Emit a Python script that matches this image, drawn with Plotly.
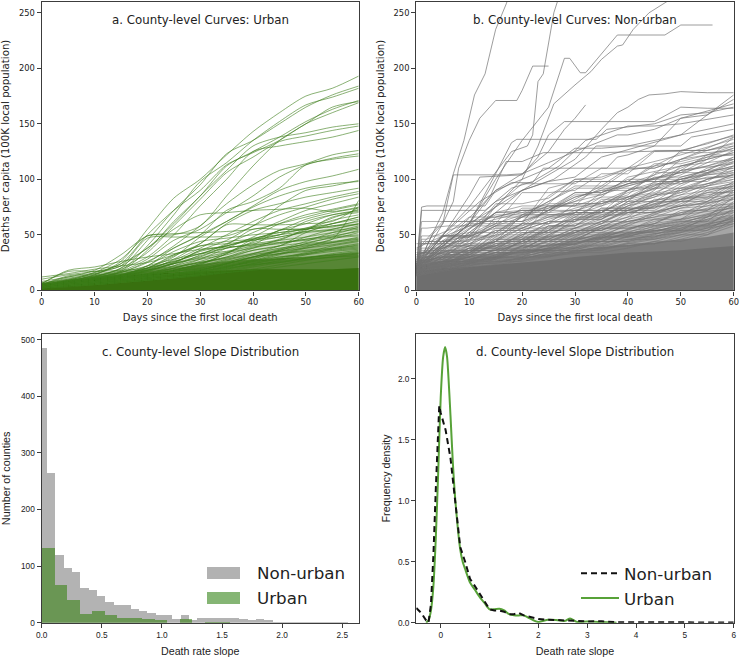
import plotly.graph_objects as go

DAYS = [0, 5, 10, 15, 20, 25, 30, 35, 40, 45, 50, 55, 60]
DAYS_EARLY = [0, 1, 2, 6, 10, 15, 20, 25, 30, 35, 40, 50, 60]

URBAN_SOLID = [5, 7, 10, 13, 15, 16, 17, 18, 19, 19, 19, 19, 20]
URBAN_BANDS = [
    [7, 10, 13, 17, 22, 26, 31, 36, 41, 47, 52, 57, 62],
    [6.5, 9, 12, 15, 19, 22, 26, 30, 34, 38, 41, 44, 47],
    [6, 8, 11, 14, 17, 20, 23, 26, 28, 29, 30, 32, 34],
]
URBAN_BAND_ALPHA = [0.2, 0.35, 0.7]
URBAN_CURVES = [
    [5, 8, 14, 26, 55, 83, 100, 122, 143, 160, 175, 182, 193],
    [5, 7, 12, 20, 45, 72, 95, 123, 135, 150, 165, 176, 184],
    [6, 8, 13, 18, 40, 68, 98, 115, 135, 152, 167, 174, 182],
    [4, 7, 11, 17, 36, 62, 85, 112, 125, 138, 152, 163, 171],
    [7, 10, 16, 24, 50, 72, 90, 113, 124, 135, 150, 160, 169],
    [5, 9, 16, 28, 49, 50, 58, 85, 112, 135, 150, 165, 170],
    [5, 8, 14, 24, 38, 60, 85, 108, 130, 138, 142, 147, 150],
    [4, 7, 12, 20, 34, 58, 82, 106, 120, 134, 139, 144, 148],
    [5, 8, 13, 19, 30, 50, 76, 100, 125, 130, 134, 138, 144],
    [3, 6, 10, 16, 25, 40, 58, 78, 95, 108, 114, 122, 126],
    [4, 7, 11, 17, 28, 45, 55, 70, 85, 102, 113, 119, 123],
    [3, 6, 9, 14, 22, 38, 50, 72, 80, 92, 113, 118, 121],
    [3, 5, 8, 13, 20, 30, 48, 62, 76, 90, 98, 103, 109],
    [8, 12, 18, 32, 49, 51, 52, 53, 55, 60, 66, 72, 77],
    [5, 9, 15, 22, 38, 55, 68, 70, 72, 73, 74, 71, 75],
    [10, 14, 17, 22, 47, 48, 48, 49, 58, 76, 90, 94, 99],
    [4, 7, 12, 16, 26, 38, 50, 62, 75, 85, 92, 96, 98],
    [4, 6, 9, 13, 18, 28, 42, 60, 72, 78, 84, 88, 92],
    [3, 6, 9, 13, 19, 27, 38, 50, 62, 72, 78, 84, 89],
    [3, 5, 8, 12, 17, 25, 36, 45, 58, 68, 75, 82, 87],
    [4, 6, 8, 11, 15, 22, 32, 42, 52, 62, 72, 78, 84],
    [3, 5, 7, 11, 15, 20, 28, 38, 48, 60, 68, 73, 78],
    [12, 15, 19, 22, 25, 32, 42, 59, 59, 59, 60, 62, 75],
    [3, 5, 8, 12, 18, 24, 30, 40, 46, 54, 64, 70, 74],
    [4, 7, 11, 14, 20, 26, 33, 41, 55, 55, 56, 65, 73],
    [3, 5, 7, 10, 14, 20, 26, 34, 44, 54, 60, 68, 72],
    [4, 6, 9, 12, 15, 18, 24, 30, 38, 46, 54, 66, 70],
    [5, 8, 10, 13, 17, 21, 25, 30, 36, 40, 52, 60, 66],
    [3, 5, 7, 9, 12, 15, 18, 24, 30, 36, 42, 46, 81],
    [4, 5, 7, 10, 13, 18, 24, 33, 46, 52, 55, 58, 62],
    [5, 7, 10, 12, 14, 17, 21, 27, 33, 40, 48, 55, 60],
    [3, 5, 7, 9, 12, 15, 18, 24, 30, 37, 44, 52, 58],
    [3, 4, 6, 8, 11, 16, 23, 33, 43, 48, 52, 54, 56],
    [4, 6, 8, 10, 13, 15, 19, 23, 28, 36, 42, 48, 54],
    [3, 5, 6, 8, 10, 13, 17, 22, 27, 33, 39, 46, 52],
    [6, 9, 11, 14, 18, 24, 31, 38, 41, 43, 45, 48, 50],
    [3, 4, 6, 8, 11, 14, 17, 21, 26, 32, 38, 43, 48],
    [5, 7, 9, 11, 13, 15, 18, 24, 30, 35, 40, 43, 46],
    [3, 4, 5, 7, 9, 12, 15, 19, 24, 29, 34, 40, 44],
    [4, 5, 7, 9, 11, 13, 16, 20, 24, 28, 33, 38, 42],
    [2, 4, 6, 8, 10, 12, 14, 18, 22, 27, 32, 37, 41],
    [3, 5, 7, 10, 12, 18, 23, 26, 30, 33, 36, 38, 40],
    [4, 6, 8, 10, 13, 15, 17, 21, 27, 30, 33, 36, 38],
    [2, 3, 5, 7, 9, 11, 14, 17, 21, 25, 29, 33, 36],
    [3, 5, 6, 8, 10, 12, 15, 19, 23, 26, 29, 32, 34],
    [2, 4, 5, 7, 9, 11, 13, 16, 19, 23, 27, 30, 33],
    [4, 6, 8, 9, 11, 14, 16, 20, 23, 25, 28, 30, 31],
    [3, 4, 6, 8, 10, 12, 14, 16, 18, 21, 24, 27, 30],
    [6, 17, 17, 18, 20, 26, 33, 38, 42, 45, 48, 52, 55],
    [5, 13, 15, 17, 18, 24, 29, 34, 38, 43, 46, 50, 57],
    [6, 18, 21, 26, 30, 33, 37, 40, 47, 50, 53, 55, 60],
    [5, 12, 14, 16, 22, 28, 33, 35, 40, 45, 55, 57, 63],
    [4, 10, 12, 15, 20, 32, 40, 42, 45, 50, 56, 60, 66],
    [4, 9, 12, 14, 17, 24, 36, 39, 41, 54, 55, 60, 64],
    [3, 8, 10, 13, 22, 35, 44, 47, 50, 52, 55, 63, 68],
    [5, 11, 13, 15, 20, 31, 40, 44, 46, 50, 62, 68, 71],
    [3, 7, 10, 14, 19, 25, 35, 40, 45, 48, 53, 58, 59],
    [4, 8, 11, 13, 18, 22, 28, 32, 39, 42, 46, 49, 53],
    [3, 7, 9, 12, 16, 20, 25, 29, 36, 40, 43, 47, 49],
    [4, 9, 11, 13, 15, 18, 22, 28, 33, 38, 41, 44, 47],
    [3, 6, 8, 10, 14, 17, 20, 25, 32, 35, 38, 41, 45],
    [2, 5, 7, 10, 12, 15, 20, 24, 29, 33, 35, 37, 39],
    [3, 6, 8, 11, 14, 17, 19, 22, 25, 30, 32, 35, 37],
    [2, 5, 7, 9, 12, 15, 17, 21, 26, 28, 30, 32, 35],
]

NONURBAN_SOLID = [17, 20, 21, 23, 25, 27, 30, 32, 34, 35, 36, 38, 40]
NONURBAN_BANDS = [
    [28, 38, 42, 47, 52, 58, 64, 70, 75, 80, 85, 90, 96],
    [24, 32, 35, 39, 44, 49, 53, 58, 62, 66, 70, 74, 80],
    [21, 27, 29, 32, 36, 40, 44, 48, 51, 54, 58, 62, 66],
    [19, 23, 25, 27, 30, 33, 36, 39, 41, 43, 46, 48, 52],
]
NONURBAN_BAND_ALPHA = [0.15, 0.25, 0.4, 0.7]
NONURBAN_PEAK_DAYS = [
    [0, 2, 5, 7, 9, 11, 13, 15, 17, 19],
    [0, 5, 7, 8, 10, 12, 15, 19, 20, 22, 25],
    [0, 5, 10, 14, 18, 21, 22, 23, 24, 26, 28],
    [0, 10, 15, 20, 25, 28, 29, 31, 32, 35, 37, 38, 47, 50, 56],
    [0, 10, 15, 20, 23, 26, 30, 33, 35, 38, 39, 41, 44, 48, 50],
    [0, 10, 15, 20, 25, 28, 30, 32],
    [0, 10, 20, 30, 35, 38, 40, 42, 44, 47, 50, 55, 60],
    [0, 5, 10, 12, 20, 23, 25, 28, 45, 48, 50, 55, 60],
    [0, 3, 5, 7, 17, 20, 25, 30, 38, 40, 45, 50, 55, 60],
    [0, 5, 10, 15, 18, 19, 34, 36, 40, 45, 50, 55, 60],
    [0, 1, 2, 13, 15, 20, 25, 30, 35, 40, 50, 60],
    [0, 1, 13, 16, 18, 22, 27, 32, 40, 45, 50, 60],
    [0, 5, 10, 14, 17, 20, 24, 35, 50, 55, 60],
    [0, 5, 10, 15, 20, 26, 32, 34, 50, 52, 60],
    [0, 5, 10, 15, 20, 25, 30, 35, 50, 60],
    [0, 5, 12, 18, 22, 24, 36, 38, 40, 45, 50, 60],
]
NONURBAN_PEAK_VALUES = [
    [15, 40, 70, 105, 135, 176, 195, 235, 258, 285],
    [20, 60, 80, 110, 135, 155, 171, 171, 180, 202, 202],
    [20, 50, 75, 100, 125, 130, 140, 188, 195, 250, 280],
    [20, 60, 100, 135, 165, 209, 209, 196, 196, 213, 224, 230, 230, 239, 239],
    [18, 55, 75, 100, 130, 168, 185, 197, 208, 220, 221, 235, 250, 262, 280],
    [20, 65, 90, 105, 125, 145, 155, 167],
    [18, 60, 90, 118, 145, 160, 165, 172, 176, 177, 179, 178, 178],
    [22, 49, 85, 102, 104, 120, 140, 152, 152, 160, 165, 164, 164],
    [20, 50, 60, 104, 104, 105, 115, 125, 140, 140, 145, 155, 158, 172],
    [20, 40, 60, 105, 133, 136, 136, 145, 147, 150, 158, 160, 165],
    [20, 75, 76, 76, 90, 100, 110, 128, 128, 130, 140, 150],
    [18, 72, 72, 84, 92, 98, 112, 135, 148, 148, 150, 158],
    [22, 40, 60, 85, 116, 116, 124, 124, 126, 132, 140],
    [24, 48, 58, 80, 90, 100, 120, 130, 130, 138, 145],
    [20, 38, 50, 70, 90, 98, 102, 120, 140, 176],
    [26, 50, 80, 97, 97, 110, 110, 120, 122, 130, 155, 168],
]
NONURBAN_CURVES = [
    [20, 49, 49, 60, 88, 88, 90, 105, 105, 125, 125, 133, 139],
    [22, 42, 62, 62, 62, 85, 100, 100, 110, 126, 126, 126, 133],
    [18, 36, 55, 70, 70, 78, 98, 98, 98, 98, 118, 128, 138],
    [24, 45, 48, 78, 78, 83, 100, 102, 110, 110, 118, 122, 130],
    [19, 30, 52, 70, 76, 76, 76, 98, 98, 112, 124, 124, 126],
    [21, 38, 45, 58, 58, 72, 88, 88, 100, 100, 110, 120, 122],
    [17, 34, 40, 66, 72, 72, 80, 92, 92, 92, 108, 112, 120],
    [23, 42, 42, 50, 66, 76, 76, 76, 90, 102, 102, 108, 118],
    [20, 28, 48, 48, 60, 60, 78, 78, 84, 96, 96, 106, 116],
    [26, 35, 35, 56, 56, 64, 70, 84, 84, 88, 98, 98, 112],
    [18, 26, 38, 44, 68, 68, 68, 70, 82, 92, 92, 100, 108],
    [22, 32, 32, 46, 46, 62, 62, 74, 74, 86, 90, 100, 106],
    [16, 30, 36, 36, 52, 52, 66, 66, 80, 80, 88, 94, 105],
    [24, 28, 40, 40, 40, 58, 58, 68, 68, 78, 86, 96, 104],
    [20, 24, 34, 50, 50, 50, 60, 60, 72, 72, 84, 84, 98],
    [28, 34, 34, 34, 44, 56, 56, 62, 70, 70, 76, 90, 97],
    [17, 22, 30, 42, 42, 42, 54, 54, 64, 76, 76, 82, 96],
    [19, 26, 26, 38, 38, 48, 48, 58, 58, 68, 68, 80, 94],
    [32, 40, 40, 44, 44, 54, 54, 54, 62, 66, 74, 80, 92],
    [21, 24, 32, 32, 36, 36, 46, 56, 56, 60, 72, 72, 90],
    [16, 21, 28, 28, 40, 40, 50, 50, 54, 64, 64, 78, 88],
    [25, 30, 30, 36, 36, 44, 44, 52, 52, 60, 70, 76, 86],
    [18, 23, 27, 34, 34, 38, 46, 46, 50, 58, 58, 66, 84],
    [30, 36, 36, 40, 46, 46, 46, 50, 58, 58, 64, 72, 82],
    [14, 20, 26, 30, 30, 42, 42, 48, 48, 56, 62, 62, 80],
    [20, 26, 26, 32, 40, 40, 44, 44, 52, 52, 60, 68, 78],
    [24, 28, 28, 28, 36, 36, 42, 50, 50, 54, 54, 66, 76],
    [15, 18, 24, 30, 30, 36, 36, 44, 44, 50, 58, 58, 74],
    [22, 26, 30, 30, 34, 38, 38, 42, 48, 48, 56, 64, 72],
    [17, 22, 22, 28, 28, 34, 40, 40, 46, 46, 52, 60, 70],
    [26, 30, 30, 34, 34, 34, 38, 44, 44, 48, 54, 54, 68],
    [13, 18, 24, 24, 30, 30, 36, 36, 42, 46, 50, 56, 66],
    [20, 24, 24, 28, 32, 32, 38, 38, 40, 44, 50, 50, 64],
    [16, 20, 26, 26, 28, 34, 34, 40, 40, 42, 48, 54, 62],
    [23, 26, 26, 30, 30, 36, 36, 38, 42, 42, 46, 52, 60],
    [14, 18, 22, 26, 26, 30, 34, 34, 38, 44, 44, 50, 58],
    [36, 62, 62, 62, 62, 70, 72, 72, 72, 78, 82, 84, 90],
    [28, 48, 66, 66, 72, 72, 84, 90, 98, 98, 98, 104, 106],
    [18, 44, 44, 76, 96, 96, 96, 110, 110, 110, 118, 126, 130],
    [30, 49, 49, 49, 60, 92, 98, 98, 98, 114, 114, 120, 128],
    [16, 30, 44, 52, 68, 68, 70, 70, 90, 104, 126, 126, 132],
    [20, 35, 52, 52, 52, 52, 56, 64, 80, 98, 98, 110, 116],
    [42, 42, 58, 58, 58, 66, 66, 66, 70, 76, 90, 96, 102],
    [19, 27, 33, 52, 66, 80, 94, 94, 94, 100, 100, 108, 110],
    [15, 28, 34, 46, 46, 54, 70, 88, 96, 100, 106, 118, 138],
    [22, 24, 30, 44, 60, 60, 64, 64, 76, 90, 112, 118, 124],
    [18, 22, 36, 36, 42, 54, 64, 72, 72, 80, 94, 105, 115],
    [20, 26, 30, 36, 36, 50, 62, 70, 84, 92, 100, 104, 108],
    [24, 30, 30, 30, 46, 46, 56, 66, 78, 86, 88, 100, 104],
    [16, 20, 28, 34, 44, 44, 52, 60, 74, 74, 82, 94, 100],
    [26, 32, 38, 38, 38, 44, 44, 58, 66, 82, 82, 88, 94],
    [14, 18, 24, 32, 32, 38, 48, 48, 60, 70, 80, 80, 86],
    [22, 25, 25, 31, 35, 41, 41, 47, 55, 62, 68, 74, 83],
    [17, 21, 25, 29, 33, 37, 43, 49, 53, 57, 63, 69, 75],
    [19, 23, 27, 27, 31, 35, 39, 47, 51, 55, 61, 67, 71],
    [15, 19, 23, 25, 29, 33, 37, 41, 49, 53, 59, 63, 67],
    [21, 23, 25, 29, 29, 31, 35, 39, 45, 51, 55, 59, 65],
    [13, 17, 21, 23, 27, 31, 33, 37, 43, 47, 53, 57, 63],
    [32, 38, 48, 60, 60, 72, 72, 72, 72, 80, 80, 92, 92],
    [24, 34, 46, 46, 56, 56, 66, 80, 80, 86, 102, 108, 120],
    [38, 49, 49, 56, 56, 66, 70, 70, 70, 70, 76, 78, 84],
    [18, 24, 32, 40, 54, 62, 62, 82, 82, 94, 108, 122, 122],
    [20, 32, 32, 48, 48, 78, 78, 78, 86, 106, 106, 106, 112],
    [28, 40, 40, 54, 54, 54, 68, 68, 76, 84, 96, 102, 102],
    [16, 25, 38, 38, 50, 58, 58, 74, 74, 74, 92, 92, 96],
    [34, 34, 42, 42, 48, 48, 52, 62, 62, 68, 78, 88, 88],
]
NONURBAN_EARLY = [
    [18, 49, 49, 49, 52, 70, 72, 72, 86, 86, 96, 106, 118],
    [17, 42, 42, 42, 46, 58, 66, 66, 74, 80, 90, 104, 126],
    [16, 38, 38, 38, 42, 54, 54, 62, 72, 78, 88, 100, 110],
    [18, 36, 36, 36, 36, 44, 56, 68, 68, 76, 84, 98, 104],
    [17, 33, 33, 33, 40, 40, 50, 60, 70, 70, 82, 92, 100],
    [16, 30, 30, 34, 34, 44, 44, 58, 58, 72, 78, 90, 98],
    [16, 28, 30, 30, 38, 38, 48, 48, 64, 64, 76, 86, 94],
    [15, 27, 27, 32, 32, 42, 42, 52, 52, 62, 72, 82, 90],
    [18, 26, 26, 30, 36, 36, 46, 46, 56, 56, 70, 80, 86],
    [17, 25, 25, 25, 34, 40, 40, 50, 50, 60, 66, 76, 82],
    [16, 24, 28, 28, 32, 32, 44, 44, 54, 54, 64, 74, 78],
    [15, 23, 23, 27, 27, 37, 37, 49, 49, 58, 62, 70, 76],
    [17, 22, 26, 26, 30, 30, 40, 40, 52, 52, 60, 68, 74],
    [16, 22, 22, 28, 28, 34, 34, 46, 46, 56, 56, 64, 72],
    [15, 21, 25, 25, 29, 29, 39, 39, 47, 47, 55, 62, 70],
    [16, 20, 20, 24, 31, 31, 37, 37, 45, 51, 51, 60, 68],
    [14, 20, 24, 24, 27, 33, 33, 41, 41, 49, 49, 58, 66],
    [15, 19, 19, 23, 26, 30, 36, 36, 44, 44, 52, 56, 64],
    [14, 19, 22, 22, 25, 29, 35, 35, 42, 48, 48, 54, 62],
    [13, 18, 21, 21, 24, 28, 32, 38, 38, 46, 46, 52, 60],
    [20, 62, 62, 62, 62, 66, 66, 74, 88, 88, 96, 112, 124],
    [18, 56, 56, 58, 58, 64, 70, 70, 82, 94, 110, 122, 136],
    [17, 46, 46, 54, 60, 60, 68, 80, 92, 92, 108, 116, 128],
    [19, 44, 44, 44, 56, 68, 68, 76, 76, 84, 102, 112, 118],
    [16, 40, 44, 44, 50, 62, 62, 72, 84, 90, 90, 100, 112],
    [18, 34, 34, 48, 48, 58, 74, 74, 80, 86, 94, 108, 114],
]

HIST_N_EDGES = [0.0, 0.0416, 0.1111, 0.1806, 0.2501, 0.3196, 0.3891, 0.4586, 0.5281, 0.5976, 0.6671,
                0.7366, 0.8061, 0.8756, 0.9451, 1.0146, 1.0841, 1.1536, 1.2231, 1.2926, 1.3621,
                1.4316, 1.5011, 1.5706, 1.6401, 1.7096, 1.7791, 1.8486, 1.9181, 1.9876, 2.0571,
                2.1266, 2.1961, 2.2656, 2.3351, 2.4046, 2.4741, 2.5436]
HIST_N_COUNTS = [485, 265, 119, 96, 90, 61, 57, 48, 36, 31, 31, 25, 20, 18, 14, 13, 6, 13, 4, 9, 9,
                 8, 8, 9, 7, 5, 6, 4, 2, 1, 1, 2, 1, 2, 1, 2, 1]
HIST_U_EDGES = [0.0, 0.104, 0.208, 0.312, 0.416, 0.52, 0.624, 0.728, 0.832, 0.936, 1.04, 1.144,
                1.248, 1.352, 1.456, 1.56]
HIST_U_COUNTS = [132, 66, 40, 16, 20, 13, 9, 8, 6, 5, 0, 6, 0, 2, 1]

DENS_N_X = [-0.5, -0.4, -0.3, -0.25, -0.2, -0.15, -0.1, -0.05, -0.03, 0, 0.1, 0.2, 0.3, 0.4, 0.5, 0.6,
            0.7, 0.8, 0.9, 1, 1.1, 1.2, 1.3, 1.4, 1.5, 1.6, 1.7, 1.8, 1.9, 2, 2.2, 2.5, 2.8, 3, 3.3,
            3.6, 4, 4.6, 5, 6]
DENS_N_Y = [0.12, 0.08, 0.02, 0, 0.15, 0.55, 1.1, 1.6, 1.78, 1.72, 1.58, 1.35, 1.0, 0.62, 0.5, 0.36,
            0.3, 0.24, 0.17, 0.11, 0.1, 0.1, 0.09, 0.07, 0.07, 0.08, 0.06, 0.05, 0.04, 0.03, 0.025,
            0.02, 0.01, 0.01, 0.012, 0.004, 0.003, 0.006, 0.003, 0.001]
DENS_U_X = [-0.3, -0.25, -0.2, -0.15, -0.1, -0.05, 0, 0.05, 0.09, 0.13, 0.2, 0.25, 0.3, 0.4, 0.45, 0.5,
            0.6, 0.7, 0.8, 0.9, 1, 1.1, 1.2, 1.3, 1.4, 1.5, 1.6, 1.7, 1.8, 1.9, 2, 2.2, 2.4, 2.55,
            2.65, 2.8, 3, 3.3, 3.6]
DENS_U_Y = [0, 0.02, 0.1, 0.3, 0.7, 1.25, 1.85, 2.18, 2.26, 2.18, 1.7, 1.3, 1.0, 0.6, 0.5, 0.44,
            0.33, 0.27, 0.21, 0.16, 0.11, 0.11, 0.115, 0.1, 0.07, 0.06, 0.06, 0.06, 0.04, 0.02, 0.005,
            0.025, 0.02, 0.015, 0.035, 0.005, 0.01, 0.005, 0.0]

TITLES = ["a. County-level Curves: Urban", "b. County-level Curves: Non-urban",
          "c. County-level Slope Distribution", "d. County-level Slope Distribution"]
LEGEND_NAMES = ["Non-urban", "Urban"]

W, H = 740, 657
fig = go.Figure()
FRAME = "#3c3c3c"
DJ = "DejaVu Sans"
LB = "Liberation Sans"
GREY_SWATCH = "#b2b2b2"
GREEN_SWATCH = "#85b574"


def xd(a, b):
    return [a / W, b / W]


def yd(top, bottom):
    return [1 - bottom / H, 1 - top / H]


def band(xa, ya, days, vals, color):
    fig.add_trace(go.Scatter(x=days, y=vals, xaxis=xa, yaxis=ya, mode="lines", fill="tozeroy",
                             fillcolor=color, line=dict(width=0), showlegend=False, hoverinfo="skip"))


# panel a
for vals, al in zip(URBAN_BANDS, URBAN_BAND_ALPHA):
    band("x", "y", DAYS, vals, "rgba(56,112,16,%s)" % al)
band("x", "y", DAYS, URBAN_SOLID, "#38700f")
for c in URBAN_CURVES:
    fig.add_trace(go.Scatter(x=DAYS, y=c, xaxis="x", yaxis="y", mode="lines", showlegend=False,
                             line=dict(color="rgba(60,125,25,0.6)", width=1, shape="spline", smoothing=0.8)))

# panel b
for vals, al in zip(NONURBAN_BANDS, NONURBAN_BAND_ALPHA):
    band("x2", "y2", DAYS, vals, "rgba(110,110,110,%s)" % al)
band("x2", "y2", DAYS, NONURBAN_SOLID, "#6e6e6e")
for c in NONURBAN_CURVES:
    fig.add_trace(go.Scatter(x=DAYS, y=c, xaxis="x2", yaxis="y2", mode="lines", showlegend=False,
                             line=dict(color="rgba(115,115,115,0.6)", width=1)))
for c in NONURBAN_EARLY:
    fig.add_trace(go.Scatter(x=DAYS_EARLY, y=c, xaxis="x2", yaxis="y2", mode="lines", showlegend=False,
                             line=dict(color="rgba(115,115,115,0.6)", width=1)))
for d, c in zip(NONURBAN_PEAK_DAYS, NONURBAN_PEAK_VALUES):
    fig.add_trace(go.Scatter(x=d, y=c, xaxis="x2", yaxis="y2", mode="lines", showlegend=False,
                             line=dict(color="rgba(115,115,115,0.7)", width=1)))


def bars(edges, counts, name, color):
    mids = [(edges[i] + edges[i + 1]) / 2 for i in range(len(counts))]
    wid = [edges[i + 1] - edges[i] for i in range(len(counts))]
    fig.add_trace(go.Bar(x=mids, y=counts, width=wid, name=name, xaxis="x3", yaxis="y3",
                         marker=dict(color=color, line=dict(width=0)), showlegend=False))


# panel c
bars(HIST_N_EDGES, HIST_N_COUNTS, "Non-urban", "rgba(128,128,128,0.6)")
bars(HIST_U_EDGES, HIST_U_COUNTS, "Urban", "rgba(56,130,20,0.6)")

# panel d
fig.add_trace(go.Scatter(x=DENS_U_X, y=DENS_U_Y, name="Urban", xaxis="x4", yaxis="y4", mode="lines",
                         line=dict(color="#57a238", width=2, shape="spline", smoothing=0.6),
                         legendrank=2))
fig.add_trace(go.Scatter(x=DENS_N_X, y=DENS_N_Y, name="Non-urban", xaxis="x4", yaxis="y4", mode="lines",
                         line=dict(color="#111111", width=2, dash="6px,4px"),
                         legendrank=1))


def axis(rng, dom, anchor, title, tickvals, font, size, tsize, standoff, ticktext=None):
    return dict(range=rng, domain=dom, anchor=anchor, tickvals=tickvals, ticktext=ticktext,
                title=dict(text=title, font=dict(family=font, size=size, color="#222"), standoff=standoff),
                tickfont=dict(family=font, size=tsize, color="#222"), showgrid=False, zeroline=False,
                showline=True, mirror=True, linecolor=FRAME, linewidth=1.4, ticks="outside",
                ticklen=4, tickwidth=1, tickcolor=FRAME, automargin=False)


day_ticks = [0, 10, 20, 30, 40, 50, 60]
cap_ticks = [0, 50, 100, 150, 200, 250]
XL, XR, XL2, XR2 = 41.7, 358.7, 416.3, 733.7
YT, YB, YT2, YB2 = 1.7, 290.3, 334, 622.7
dl = "Days since the first local death"
cap = "Deaths per capita (100K local population)"

annots = [
    dict(text=TITLES[i], x=0.5, y=1 - y / H, xref="x%s domain" % s, yref="paper", yanchor="middle",
         showarrow=False, font=dict(family=DJ, size=11.8, color="#222"))
    for i, (y, s) in enumerate([(20, ""), (20, "2"), (352, "3"), (352, "4")])
]
shapes = []
for name, col, cy in zip(LEGEND_NAMES, [GREY_SWATCH, GREEN_SWATCH], [573, 598]):
    annots.append(dict(text=name, x=255 / W, y=1 - cy / H, xref="paper", yref="paper", xanchor="left",
                       yanchor="middle", showarrow=False, font=dict(family=DJ, size=16.7, color="#222")))
    shapes.append(dict(type="rect", xref="paper", yref="paper", x0=207 / W, x1=240 / W,
                       y0=1 - (cy + 6) / H, y1=1 - (cy - 6) / H, fillcolor=col, line=dict(width=0)))

fig.update_layout(
    width=W, height=H, margin=dict(l=0, r=0, t=0, b=0), paper_bgcolor="white", plot_bgcolor="white",
    barmode="overlay", bargap=0,
    xaxis=axis([0, 60], xd(XL, XR), "y", dl, day_ticks, DJ, 10, 8.3, 7),
    yaxis=axis([0, 260], yd(YT, YB), "x", cap, cap_ticks, DJ, 10.2, 8.3, 8),
    xaxis2=axis([0, 60], xd(XL2, XR2), "y2", dl, day_ticks, DJ, 10, 8.3, 7),
    yaxis2=axis([0, 260], yd(YT, YB), "x2", cap, cap_ticks, DJ, 10.2, 8.3, 7),
    xaxis3=axis([0, 2.637], xd(XL, XR), "y3", "Death rate slope", [0, 0.5, 1, 1.5, 2, 2.5], LB, 10.7, 8.3, 8,
                ["0.0", "0.5", "1.0", "1.5", "2.0", "2.5"]),
    yaxis3=axis([0, 510], yd(YT2, YB2), "x3", "Number of counties", [0, 100, 200, 300, 400, 500], LB, 10.8, 8.3, 8),
    xaxis4=axis([-0.5, 6], xd(XL2, XR2), "y4", "Death rate slope", [0, 1, 2, 3, 4, 5, 6], LB, 10.7, 8.3, 8),
    yaxis4=axis([0, 2.367], yd(YT2, YB2), "x4", "Frequency density", [0, 0.5, 1, 1.5, 2], LB, 10.8, 8.3, 5,
                ["0.0", "0.5", "1.0", "1.5", "2.0"]),
    legend=dict(x=576 / W, y=1 - 556 / H, xanchor="left", yanchor="top", bgcolor="rgba(0,0,0,0)",
                font=dict(family=DJ, size=16.7, color="#222"), itemwidth=38, traceorder="normal"),
    annotations=annots,
    shapes=shapes,
)

fig.write_html("out.html", config={"displayModeBar": False}, post_script="document.body.style.margin='0';")
